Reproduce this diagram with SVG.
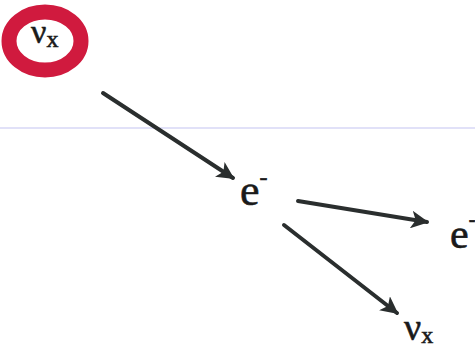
<svg xmlns="http://www.w3.org/2000/svg" width="475" height="349" viewBox="0 0 475 349">
<defs>
<style>
text{font-family:'Liberation Serif','Times New Roman',serif;fill:#1a1a1a;stroke:#1a1a1a;stroke-width:0.6}
.arr{stroke:#2a2e2e;stroke-width:4;fill:none;stroke-linecap:round}
</style>
<marker id="ah" viewBox="0 0 10 10" refX="9" refY="5" markerWidth="4.4" markerHeight="4.4" orient="auto" markerUnits="strokeWidth">
<path d="M0,0 L10,5 L0,10 L2.5,5 Z" fill="#2a2e2e"/>
</marker>
</defs>
<rect width="475" height="349" fill="#ffffff"/>
<line x1="0" y1="128" x2="475" y2="128" stroke="#c4c4f2" stroke-width="1.2"/>
<g id="nu_in">
<ellipse cx="45" cy="41" rx="36" ry="29" fill="none" stroke="#d01a3e" stroke-width="15"/>
<text x="31" y="43" font-size="34">ν<tspan font-size="24" dy="4">x</tspan></text>
</g>
<g id="e_target">
<text x="240" y="205" font-size="44">e<tspan font-size="24" dy="-20">-</tspan></text>
</g>
<g id="e_out">
<text x="450" y="248" font-size="42">e<tspan font-size="20" dy="-22">-</tspan></text>
</g>
<g id="nu_out">
<text x="404" y="340" font-size="38">ν<tspan font-size="24" dy="3">x</tspan></text>
</g>
<g id="connectors">
<line class="arr" x1="103" y1="93" x2="233" y2="178" marker-end="url(#ah)"/>
<line class="arr" x1="298" y1="201" x2="427" y2="222" marker-end="url(#ah)"/>
<line class="arr" x1="284" y1="225" x2="397" y2="313" marker-end="url(#ah)"/>
</g>
</svg>
